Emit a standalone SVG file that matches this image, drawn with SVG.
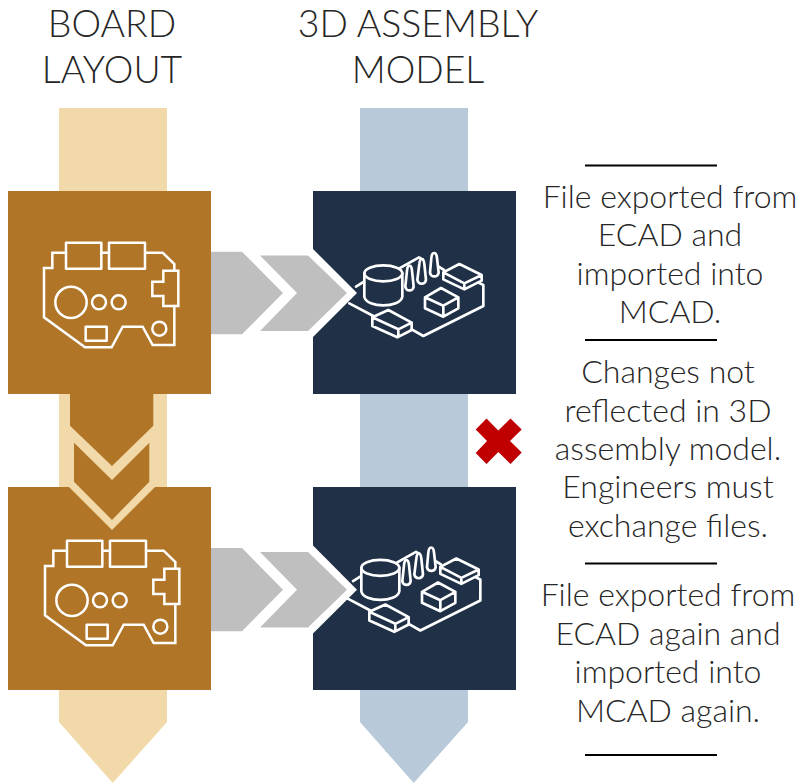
<svg xmlns="http://www.w3.org/2000/svg" xmlns:xlink="http://www.w3.org/1999/xlink" width="800" height="783" viewBox="0 0 800 783">
<style>
text{font-family:"Lato","Liberation Sans",sans-serif;font-weight:300;fill:#262626;text-anchor:middle}
.h{font-size:37.4px}
.t{font-size:32px}
.rule{stroke:#000;stroke-width:2;fill:none}
.ic{fill:none;stroke:#fff;stroke-linejoin:round;stroke-linecap:round}
.gold{fill:#B07527}.navy{fill:#1F3047}.pale{fill:#F2D9A9}.blue{fill:#B8C9D9}.gray{fill:#BFBFBF}
</style>
<defs>
<g id="pcb" class="ic" stroke-width="7.5" transform="translate(0,180) scale(.33333)">
<path stroke-linejoin="miter" d="M198,218H157V264H132V412L255,502H335L368,440H428L458,495H523V378M435,218H488L523,252V272M304,218H327"/>
<path stroke-linejoin="miter" d="M523,272H490V305H457V348H490V378H535V272Z"/>
<rect x="198" y="188" width="106" height="78"/><rect x="327" y="188" width="108" height="78"/>
<rect x="257" y="440" width="63" height="42"/>
<circle cx="213" cy="367" r="47"/><circle cx="297" cy="367" r="21"/><circle cx="356" cy="367" r="21"/><circle cx="478" cy="446" r="21"/>
</g>
<g id="asm" class="ic" stroke-width="8" transform="translate(340,240) scale(.33333)">
<path d="M48,140L72,125M28,190L100,228M215,268L250,288L430,198V135L415,128M178,85L237,52L248,58M296,80L312,90"/>
<ellipse cx="130" cy="100" rx="57" ry="24"/>
<path d="M73,100V170C80,205 180,205 187,170V100"/>
<path d="M196,140L201,92C203,72 214,72 216,92L221,140C218,155 199,155 196,140Z"/>
<path d="M232,120L238,72C240,52 251,52 253,72L258,120C255,135 235,135 232,120Z"/>
<path d="M270,98L274,54C276,34 289,34 291,54L296,98C293,113 273,113 270,98Z"/>
<path d="M310,97L358,72L425,105L373,130ZM310,97V118L373,148L425,122V105M373,130V148"/>
<path d="M255,172L303,144L355,172L310,197ZM255,172V205L310,230L355,205V172M310,197V230"/>
<path d="M97,232L145,210L215,248L175,268ZM97,232V258L172,292L215,270V248M175,268V290"/>
</g>
</defs>
<g id="board-band">
<path class="pale" d="M59,108H167V722L112.700,783L59,722Z"/>
</g>
<g id="model-band">
<path class="blue" d="M360,108H468V722L413.700,783L360,722Z"/>
</g>
<g id="connectors">
<g id="arrow-top">
<path class="gray" d="M211,251.700H242L283,293L242,334.300H211Z"/>
</g>
<g id="arrow-bottom">
<path class="gray" d="M211,548H242L283,589.700L242,631.300H211Z"/>
</g>
</g>
<g id="node-board-1">
<rect class="gold" x="8" y="191" width="203" height="203"/>
<use xlink:href="#pcb" href="#pcb"/>
</g>
<g id="node-board-2">
<rect class="gold" x="8" y="487" width="203" height="203"/>
<path class="pale" d="M69,487L112,530L155,487Z"/>
<use xlink:href="#pcb" href="#pcb" transform="translate(1,298)"/>
</g>
<g id="chevron-down">
<path class="gold" d="M70,394H153.300V425.700L112,466L70,425.700Z"/>
<path class="gold" d="M74,442.700L112,480L149.300,442.700V481.700L112,520L74,481.700Z"/>
</g>
<g id="node-model-1">
<rect class="navy" x="313" y="191" width="203" height="203"/>
<path fill="#fff" d="M313,249L357,293L313,337Z"/>
<path class="gray" d="M260,255.500H308L347,293L308,331H260L297,293Z"/>
<use xlink:href="#asm" href="#asm"/>
</g>
<g id="node-model-2">
<rect class="navy" x="313" y="487" width="203" height="203"/>
<path fill="#fff" d="M313,545.500L357,589.700L313,633.500Z"/>
<path class="gray" d="M260,552H308L347,589.700L308,627.500H260L297,589.700Z"/>
<use xlink:href="#asm" href="#asm" transform="translate(-3,294.500)"/>
</g>
<g id="red-x">
<path fill="#C00000" d="M486.500,418.500L498.300,430.500L510.500,418.500L521.700,429.500L510,441L521.700,452.500L510.500,464L498.300,452L486.500,464L475.700,453L487,441L475.700,429.500Z"/>
</g>
<g id="headers">
<text class="h" x="112" y="37">BOARD</text>
<text class="h" x="112" y="83">LAYOUT</text>
<text class="h" x="418" y="37">3D ASSEMBLY</text>
<text class="h" x="418" y="83">MODEL</text>
</g>
<g id="notes">
<path class="rule" d="M585,165.500H717M585,340H717M585,563.500H717M585,755H717"/>
<text class="t" x="670" y="208">File exported from</text>
<text class="t" x="670" y="246">ECAD and</text>
<text class="t" x="670" y="285">imported into</text>
<text class="t" x="670" y="323">MCAD.</text>
<text class="t" x="668" y="383">Changes not</text>
<text class="t" x="668" y="422">reflected in 3D</text>
<text class="t" x="668" y="460">assembly model.</text>
<text class="t" x="668" y="498">Engineers must</text>
<text class="t" x="668" y="537">exchange files.</text>
<text class="t" x="668" y="606">File exported from</text>
<text class="t" x="668" y="645">ECAD again and</text>
<text class="t" x="668" y="683">imported into</text>
<text class="t" x="668" y="722">MCAD again.</text>
</g>
</svg>
